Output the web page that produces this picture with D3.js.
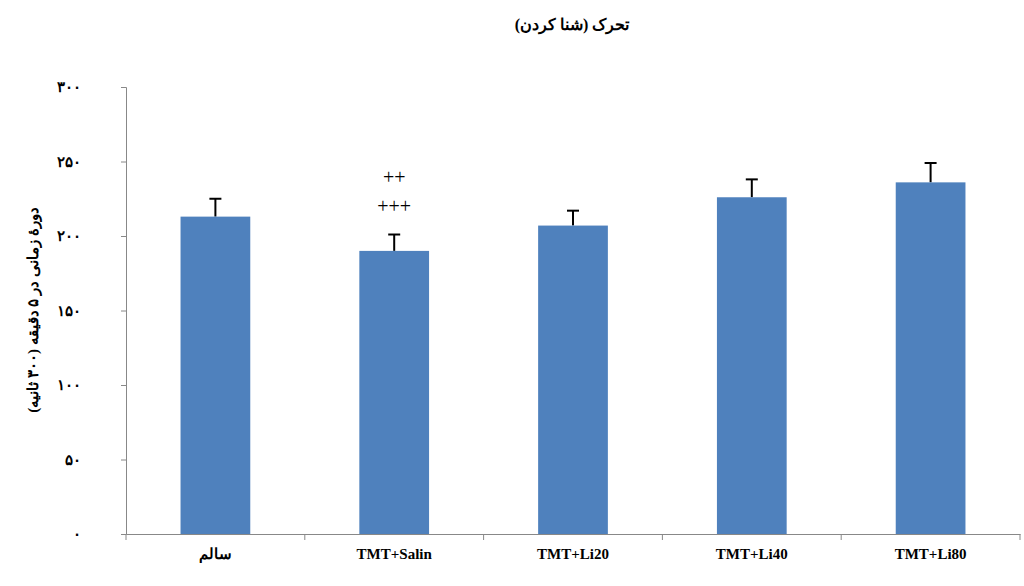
<!DOCTYPE html>
<html><head><meta charset="utf-8">
<script src="https://cdn.jsdelivr.net/npm/d3@7"></script>
<style>body{margin:0;background:#fff}</style></head>
<body><svg id="c" width="1024" height="586"></svg>
<script>
const categories = ["سالم","TMT+Salin","TMT+Li20","TMT+Li40","TMT+Li80"];
const values = [213, 190, 207, 226, 236];
const errors = [12, 11, 10, 12, 13];
const tickValues = [0,50,100,150,200,250,300];
const tickLabels = ["۰","۵۰","۱۰۰","۱۵۰","۲۰۰","۲۵۰","۳۰۰"];
const marks = ["++","+++"];

const svg = d3.select("#c");
const m = {l:126, r:1020, t:87, b:534};
const x = d3.scaleBand().domain(categories).range([m.l, m.r]).paddingInner(0.61).paddingOuter(0.305);
const y = d3.scaleLinear().domain([0,300]).range([m.b, m.t]);
const font = "Liberation Serif, DejaVu Serif, serif";

const ya = svg.append("g").attr("transform",`translate(${m.l},0)`)
  .call(d3.axisLeft(y).tickValues(tickValues).tickFormat((d,i)=>tickLabels[i]).tickSize(5).tickPadding(40));
ya.select(".domain").attr("stroke","#888");
ya.selectAll(".tick line").attr("stroke","#888");
ya.selectAll("text").attr("font-family",font).attr("font-weight","bold").attr("font-size",15).attr("fill","#000");

const xa = svg.append("g").attr("transform",`translate(0,${m.b})`)
  .call(d3.axisBottom(x).tickSize(0).tickPadding(14));
xa.select(".domain").attr("stroke","#888");
xa.selectAll("text").attr("font-family",font).attr("font-weight","bold").attr("font-size",15).attr("fill","#000");
// separator ticks between categories
const step = x.step();
d3.range(categories.length+1).forEach(i=>{
  const xx = m.l + i*(m.r-m.l)/categories.length;
  svg.append("line").attr("x1",xx).attr("x2",xx).attr("y1",m.b).attr("y2",m.b+6).attr("stroke","#888");
});

const g = svg.append("g");
categories.forEach((c,i)=>{
  const cx = x(c)+x.bandwidth()/2;
  g.append("line").attr("x1",cx).attr("x2",cx).attr("y1",y(values[i])).attr("y2",y(values[i]+errors[i])).attr("stroke","#000").attr("stroke-width",2);
  g.append("line").attr("x1",cx-6).attr("x2",cx+6).attr("y1",y(values[i]+errors[i])).attr("y2",y(values[i]+errors[i])).attr("stroke","#000").attr("stroke-width",2);
  g.append("rect").attr("x",x(c)).attr("width",x.bandwidth()).attr("y",y(values[i])).attr("height",y(0)-y(values[i])).attr("fill","#4f81bd");
});
const sx = x(categories[1])+x.bandwidth()/2;
svg.append("text").attr("x",sx).attr("y",y(values[1]+errors[1])-51).attr("text-anchor","middle").attr("font-family",font).attr("font-size",20).text(marks[0]);
svg.append("text").attr("x",sx).attr("y",y(values[1]+errors[1])-22).attr("text-anchor","middle").attr("font-family",font).attr("font-size",20).text(marks[1]);

svg.append("text").attr("x",572).attr("y",30).attr("text-anchor","middle").attr("font-family",font).attr("font-weight","bold").attr("font-size",16).attr("direction","rtl").text("تحرک (شنا کردن)");
svg.append("text").attr("transform","translate(38,310) rotate(-90)").attr("text-anchor","middle").attr("font-family",font).attr("font-weight","bold").attr("font-size",15).attr("direction","rtl").text("دورهٔ زمانی در ۵ دقیقه (۳۰۰ ثانیه)");
</script></body></html>
